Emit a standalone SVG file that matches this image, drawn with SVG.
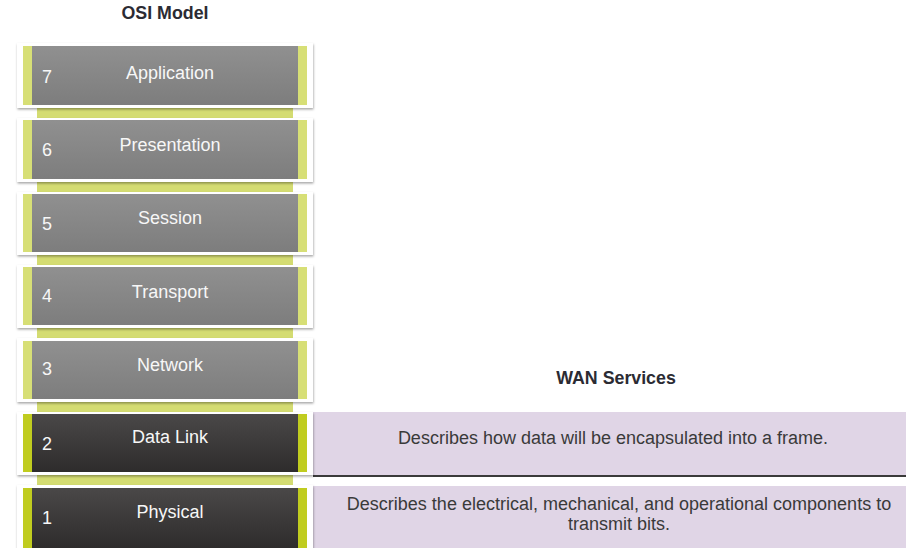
<svg xmlns="http://www.w3.org/2000/svg" width="906" height="548" viewBox="0 0 906 548">
<defs>
  <linearGradient id="gGray" x1="0" y1="0" x2="0" y2="1">
    <stop offset="0" stop-color="#909090"/>
    <stop offset="1" stop-color="#7d7d7d"/>
  </linearGradient>
  <linearGradient id="gDark" x1="0" y1="0" x2="0" y2="1">
    <stop offset="0" stop-color="#4a4848"/>
    <stop offset="1" stop-color="#2e2c2c"/>
  </linearGradient>
  <filter id="sh" x="-5%" y="-10%" width="110%" height="130%">
    <feDropShadow dx="0.5" dy="1.5" stdDeviation="1.2" flood-color="#000" flood-opacity="0.35"/>
  </filter>
</defs>
<style>
  .card{fill:#ffffff;filter:url(#sh)}
  .gray{fill:url(#gGray)}
  .dark{fill:url(#gDark)}
  .lg{fill:#d7df76}
  .dg{fill:#c0cc1f}
  .strip{fill:#d4dc72}
  .lbl{font-family:"Liberation Sans",Arial,sans-serif;font-size:18px;fill:#f7f7f7;text-anchor:middle}
  .num{font-family:"Liberation Sans",Arial,sans-serif;font-size:18px;fill:#f7f7f7}
  .title{font-family:"Liberation Sans",Arial,sans-serif;font-size:17.8px;font-weight:bold;fill:#2b2b33;text-anchor:middle}
  .desc{font-family:"Liberation Sans",Arial,sans-serif;font-size:18px;fill:#3a3a3a;text-anchor:middle}
  .purple{fill:#e0d5e6}
</style>

<text class="title" x="165" y="19">OSI Model</text>
<text class="title" x="616" y="384">WAN Services</text>

<g id="strips">
  <rect class="strip" x="37" y="107" width="256" height="11"/>
  <rect class="strip" x="37" y="181" width="256" height="11"/>
  <rect class="strip" x="37" y="255" width="256" height="10"/>
  <rect class="strip" x="37" y="328" width="256" height="10"/>
  <rect class="strip" x="37" y="402" width="256" height="10"/>
  <rect class="strip" x="37" y="475" width="256" height="10"/>
</g>

<g id="wan-services">
  <g id="wan-datalink">
    <rect x="313" y="475" width="593" height="2" fill="#3a3a3a"/>
    <rect class="purple" x="313" y="412" width="593" height="63"/>
    <text class="desc" x="613" y="444">Describes how data will be encapsulated into a frame.</text>
  </g>
  <g id="wan-physical">
    <rect class="purple" x="313" y="486" width="593" height="62"/>
    <text class="desc" x="619" y="510">Describes the electrical, mechanical, and operational components to</text>
    <text class="desc" x="619" y="530">transmit bits.</text>
  </g>
</g>

<g id="layer7">
  <rect class="card" x="17" y="43" width="296" height="65"/>
  <rect class="gray" x="23" y="46" width="284" height="59"/>
  <rect class="lg" x="23" y="46" width="9" height="59"/>
  <rect class="lg" x="298" y="46" width="9" height="59"/>
  <text class="num" x="42" y="83">7</text>
  <text class="lbl" x="170" y="79">Application</text>
</g>
<g id="layer6">
  <rect class="card" x="17" y="118" width="296" height="64"/>
  <rect class="gray" x="23" y="120" width="284" height="59"/>
  <rect class="lg" x="23" y="120" width="9" height="59"/>
  <rect class="lg" x="298" y="120" width="9" height="59"/>
  <text class="num" x="42" y="156">6</text>
  <text class="lbl" x="170" y="151">Presentation</text>
</g>
<g id="layer5">
  <rect class="card" x="17" y="192" width="296" height="63"/>
  <rect class="gray" x="23" y="194" width="284" height="58"/>
  <rect class="lg" x="23" y="194" width="9" height="58"/>
  <rect class="lg" x="298" y="194" width="9" height="58"/>
  <text class="num" x="42" y="230">5</text>
  <text class="lbl" x="170" y="224">Session</text>
</g>
<g id="layer4">
  <rect class="card" x="17" y="265" width="296" height="63"/>
  <rect class="gray" x="23" y="267" width="284" height="58"/>
  <rect class="lg" x="23" y="267" width="9" height="58"/>
  <rect class="lg" x="298" y="267" width="9" height="58"/>
  <text class="num" x="42" y="302">4</text>
  <text class="lbl" x="170" y="298">Transport</text>
</g>
<g id="layer3">
  <rect class="card" x="17" y="338" width="296" height="64"/>
  <rect class="gray" x="23" y="341" width="284" height="58"/>
  <rect class="lg" x="23" y="341" width="9" height="58"/>
  <rect class="lg" x="298" y="341" width="9" height="58"/>
  <text class="num" x="42" y="375">3</text>
  <text class="lbl" x="170" y="371">Network</text>
</g>
<g id="layer2">
  <rect class="card" x="17" y="412" width="296" height="63"/>
  <rect class="dark" x="23" y="414" width="284" height="58"/>
  <rect class="dg" x="23" y="414" width="9" height="58"/>
  <rect class="dg" x="298" y="414" width="9" height="58"/>
  <text class="num" x="42" y="450">2</text>
  <text class="lbl" x="170" y="443">Data Link</text>
</g>
<g id="layer1">
  <rect class="card" x="17" y="485" width="296" height="66"/>
  <rect class="dark" x="23" y="488" width="284" height="60"/>
  <rect class="dg" x="23" y="488" width="9" height="60"/>
  <rect class="dg" x="298" y="488" width="9" height="60"/>
  <text class="num" x="42" y="524">1</text>
  <text class="lbl" x="170" y="518">Physical</text>
</g>

<g id="connectors"></g>
</svg>
